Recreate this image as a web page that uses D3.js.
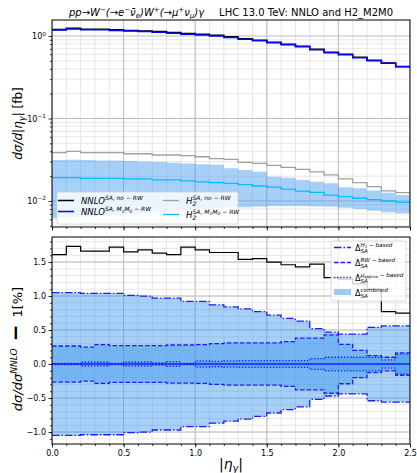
<!DOCTYPE html>
<html>
<head>
<meta charset="utf-8">
<script src="https://cdn.jsdelivr.net/npm/d3@7"></script>
<style>
  body { margin: 0; background: #fff; }
  text { font-family: "DejaVu Sans", sans-serif; fill: #000; }
</style>
</head>
<body>
<svg id="chart" width="417" height="473"></svg>
<script>
// |eta_gamma| bins (width 0.1)
const binEdges = [0.0,0.1,0.2,0.3,0.4,0.5,0.6,0.7,0.8,0.9,1.0,1.1,1.2,1.3,1.4,1.5,1.6,1.7,1.8,1.9,2.0,2.1,2.2,2.3,2.4,2.5];

// dsigma/d|eta_gamma| [fb]
const nnloNoRW = [1.20,1.24,1.21,1.21,1.19,1.17,1.15,1.13,1.10,1.07,1.05,1.02,0.976,0.926,0.891,0.842,0.796,0.753,0.693,0.636,0.601,0.552,0.508,0.470,0.427];
const nnloM1M0 = [1.18,1.22,1.19,1.19,1.17,1.15,1.13,1.11,1.08,1.05,1.03,1.00,0.960,0.912,0.877,0.830,0.785,0.742,0.683,0.628,0.594,0.546,0.502,0.466,0.424];
const h2NoRW   = [0.0385,0.0400,0.0385,0.0385,0.0385,0.0374,0.0374,0.0361,0.0361,0.0354,0.0344,0.0326,0.0320,0.0294,0.0286,0.0271,0.0256,0.0242,0.0225,0.0207,0.0185,0.0167,0.0149,0.0133,0.0126];
const h2M1M0   = [0.0192,0.0192,0.0188,0.0188,0.0188,0.0185,0.0185,0.0180,0.0180,0.0175,0.0171,0.0167,0.0164,0.0158,0.0152,0.0147,0.0139,0.0132,0.0127,0.0118,0.0113,0.0108,0.0104,0.0100,0.0096];
const h2BandHigh = [0.0314,0.0316,0.0314,0.0310,0.0310,0.0306,0.0302,0.0296,0.0290,0.0285,0.0279,0.0275,0.0249,0.0238,0.0226,0.0197,0.0192,0.0180,0.0171,0.0164,0.0147,0.0143,0.0134,0.0126,0.0118];
const h2BandLow  = [0.0062,0.0063,0.0065,0.0066,0.0068,0.0070,0.0072,0.0074,0.0076,0.0078,0.0080,0.0082,0.0084,0.0084,0.0085,0.0087,0.0087,0.0087,0.0086,0.0085,0.0083,0.0080,0.0076,0.0073,0.0071];

// ratio panel: dsigma/dsigma^NNLO - 1 [%]
const ratioNoRW = [1.61,1.73,1.66,1.66,1.72,1.65,1.68,1.63,1.61,1.72,1.68,1.64,1.64,1.54,1.55,1.50,1.46,1.43,1.47,1.27,1.25,1.18,1.10,0.77,0.75];
const deltaH1   = [1.05,1.05,1.04,1.04,1.04,1.01,1.00,0.97,0.97,0.92,0.92,0.87,0.84,0.81,0.77,0.72,0.67,0.63,0.52,0.47,0.44,0.44,0.54,0.56,0.56];
const deltaRW   = [0.265,0.265,0.25,0.285,0.27,0.27,0.27,0.27,0.28,0.28,0.285,0.30,0.31,0.31,0.31,0.31,0.33,0.38,0.38,0.43,0.29,0.20,0.125,0.10,0.165];
const deltaMu   = [0.01,0.01,0.03,0.03,0.01,0.03,0.03,0.015,0.035,0.01,0.045,0.04,0.045,0.05,0.05,0.05,0.05,0.05,0.08,0.10,0.10,0.10,0.10,0.06,0.15];
const deltaComb = [1.05,1.05,1.04,1.04,1.04,1.01,1.00,0.97,0.97,0.92,0.92,0.87,0.84,0.81,0.77,0.72,0.67,0.63,0.52,0.47,0.44,0.44,0.54,0.56,0.56];

// axis ticks
const xTicks = [0.0,0.5,1.0,1.5,2.0,2.5];
const xTickLabels = ["0.0","0.5","1.0","1.5","2.0","2.5"];
const yTopTicks = [1e-2,1e-1,1];
const yTopTickExps = ["−2","−1","0"];
const yBotTicks = [-1.0,-0.5,0.0,0.5,1.0,1.5];
const yBotTickLabels = ["−1.0","−0.5","0.0","0.5","1.0","1.5"];

const svg = d3.select("#chart");
const L = 52, R = 410;
const topP = {y0: 20, y1: 227};
const botP = {y0: 237, y1: 444};

const x = d3.scaleLinear().domain([0, 2.5]).range([L, R]);
const yTop = d3.scaleLog().domain([0.00484, 1.563]).range([topP.y1, topP.y0]);
const yBot = d3.scaleLinear().domain([-1.176, 1.868]).range([botP.y1, botP.y0]);

const BLUE = "#0000ff";
const LINE_BLUE = "#1c1cff";
const FILL = "rgb(60,150,240)";
const FILL_OP = 0.45;

// clip paths
const defs = svg.append("defs");
defs.append("clipPath").attr("id", "clipTop").append("rect")
  .attr("x", L).attr("y", topP.y0).attr("width", R - L).attr("height", topP.y1 - topP.y0);
defs.append("clipPath").attr("id", "clipBot").append("rect")
  .attr("x", L).attr("y", botP.y0).attr("width", R - L).attr("height", botP.y1 - botP.y0);

// step helpers: value i holds on [edge i, edge i+1)
const stepPts = vals => binEdges.map((e, i) => [e, vals[Math.min(i, vals.length - 1)]]);
function stepLine(ys, vals) {
  return d3.line().curve(d3.curveStepAfter).x(d => x(d[0])).y(d => ys(d[1]))(stepPts(vals));
}
function stepArea(ys, lo, hi) {
  const pts = binEdges.map((e, i) => { const k = Math.min(i, lo.length - 1); return [e, lo[k], hi[k]]; });
  return d3.area().curve(d3.curveStepAfter).x(d => x(d[0])).y0(d => ys(d[1])).y1(d => ys(d[2]))(pts);
}

// minor tick lists
const xMinor = d3.range(0, 26).map(i => i / 10);
const yTopMinor = [];
[-3, -2, -1, 0].forEach(p => { for (let k = 2; k <= 9; k++) { const v = k * Math.pow(10, p); if (v > 0.00484 && v < 1.563) yTopMinor.push(v); } });
const yBotMinor = d3.range(-11, 19).map(i => i / 10);

function grid(g, ys, yMin, yMaj, y0, y1) {
  g.selectAll(".vmin").data(xMinor).join("line")
    .attr("x1", d => x(d)).attr("x2", d => x(d)).attr("y1", y0).attr("y2", y1)
    .attr("stroke", "#e0e0e0").attr("stroke-width", 0.8);
  g.selectAll(".hmin").data(yMin).join("line")
    .attr("x1", L).attr("x2", R).attr("y1", d => ys(d)).attr("y2", d => ys(d))
    .attr("stroke", "#e0e0e0").attr("stroke-width", 0.8);
  g.selectAll(".vmaj").data(xTicks).join("line")
    .attr("x1", d => x(d)).attr("x2", d => x(d)).attr("y1", y0).attr("y2", y1)
    .attr("stroke", "#bdbdbd").attr("stroke-width", 1);
  g.selectAll(".hmaj").data(yMaj).join("line")
    .attr("x1", L).attr("x2", R).attr("y1", d => ys(d)).attr("y2", d => ys(d))
    .attr("stroke", "#bdbdbd").attr("stroke-width", 1);
}

// ---------------- top panel ----------------
const gTop = svg.append("g").attr("clip-path", "url(#clipTop)");
grid(gTop.append("g"), yTop, yTopMinor, yTopTicks, topP.y0, topP.y1);

gTop.append("path").attr("d", stepArea(yTop, h2BandLow, h2BandHigh))
  .attr("fill", FILL).attr("fill-opacity", FILL_OP);
gTop.append("path").attr("d", stepLine(yTop, h2NoRW))
  .attr("fill", "none").attr("stroke", "#a0a0a0").attr("stroke-width", 1.3);
gTop.append("path").attr("d", stepLine(yTop, h2M1M0))
  .attr("fill", "none").attr("stroke", "#00bfff").attr("stroke-width", 1.3);
gTop.append("path").attr("d", stepLine(yTop, nnloNoRW))
  .attr("fill", "none").attr("stroke", "#000").attr("stroke-width", 1.5);
gTop.append("path").attr("d", stepLine(yTop, nnloM1M0))
  .attr("fill", "none").attr("stroke", BLUE).attr("stroke-width", 1.5);

// ---------------- bottom panel ----------------
const gBot = svg.append("g").attr("clip-path", "url(#clipBot)");
grid(gBot.append("g"), yBot, yBotMinor, yBotTicks, botP.y0, botP.y1);

const neg = a => a.map(v => -v);
gBot.append("path").attr("d", stepArea(yBot, neg(deltaComb), deltaComb))
  .attr("fill", FILL).attr("fill-opacity", FILL_OP);
gBot.append("path").attr("d", stepArea(yBot, neg(deltaRW), deltaRW))
  .attr("fill", FILL).attr("fill-opacity", FILL_OP);
gBot.append("path").attr("d", stepArea(yBot, neg(deltaMu), deltaMu))
  .attr("fill", FILL).attr("fill-opacity", FILL_OP);

const DASH_H1 = "7.5,2,1.5,2";
const DASH_RW = "4.5,2";
const DASH_MU = "1.3,1.8";
const bands = [
  {vals: deltaH1, dash: DASH_H1},
  {vals: deltaRW, dash: DASH_RW},
  {vals: deltaMu, dash: DASH_MU}
];
bands.forEach(b => {
  [b.vals, neg(b.vals)].forEach(v => {
    gBot.append("path").attr("d", stepLine(yBot, v))
      .attr("fill", "none").attr("stroke", LINE_BLUE).attr("stroke-width", 1.3)
      .attr("stroke-dasharray", b.dash);
  });
});
const zeros = binEdges.slice(1).map(() => 0);
gBot.append("path").attr("d", stepLine(yBot, zeros))
  .attr("fill", "none").attr("stroke", LINE_BLUE).attr("stroke-width", 1.6);
gBot.append("path").attr("d", stepLine(yBot, ratioNoRW))
  .attr("fill", "none").attr("stroke", "#000").attr("stroke-width", 1.2);

// ---------------- axes ----------------
function frame(y0, y1) {
  svg.append("rect").attr("x", L).attr("y", y0).attr("width", R - L).attr("height", y1 - y0)
    .attr("fill", "none").attr("stroke", "#000").attr("stroke-width", 1);
}
function styleAxis(g) {
  g.select(".domain").remove();
  g.selectAll("line").attr("stroke", "#000").attr("stroke-width", 0.8);
  g.selectAll("text").attr("font-size", 8).attr("fill", "#000").style("font-family", "DejaVu Sans");
}

// x axes (top panel: ticks only)
[ [topP.y1, false], [botP.y1, true] ].forEach(([yy, labels]) => {
  const gm = svg.append("g").attr("transform", `translate(0,${yy})`)
    .call(d3.axisBottom(x).tickValues(xMinor).tickSize(2).tickFormat(""));
  styleAxis(gm);
  const gM = svg.append("g").attr("transform", `translate(0,${yy})`)
    .call(d3.axisBottom(x).tickValues(xTicks).tickSize(3.5).tickPadding(2.5)
      .tickFormat((d, i) => labels ? xTickLabels[i] : ""));
  styleAxis(gM);
});

// y axis top (log)
styleAxis(svg.append("g").attr("transform", `translate(${L},0)`)
  .call(d3.axisLeft(yTop).tickValues(yTopMinor).tickSize(2).tickFormat("")));
styleAxis(svg.append("g").attr("transform", `translate(${L},0)`)
  .call(d3.axisLeft(yTop).tickValues(yTopTicks).tickSize(3.5).tickFormat("")));
yTopTicks.forEach((v, i) => {
  const t = svg.append("text").attr("x", L - 6).attr("y", yTop(v) + 3)
    .attr("text-anchor", "end").attr("font-size", 8);
  t.append("tspan").text("10");
  t.append("tspan").attr("dy", -3.5).attr("font-size", 5.8).text(yTopTickExps[i]);
});

// y axis bottom
styleAxis(svg.append("g").attr("transform", `translate(${L},0)`)
  .call(d3.axisLeft(yBot).tickValues(yBotMinor).tickSize(2).tickFormat("")));
styleAxis(svg.append("g").attr("transform", `translate(${L},0)`)
  .call(d3.axisLeft(yBot).tickValues(yBotTicks).tickSize(3.5).tickPadding(2.5)
    .tickFormat((d, i) => yBotTickLabels[i])));

frame(topP.y0, topP.y1);
frame(botP.y0, botP.y1);

// ---------------- rich text helper ----------------
// segments: {t, lvl: "base" | "sup" | "sub" | "supsub", it: bool, bold: bool, size}
function rich(sel, segs, base) {
  const offs = {base: 0, sup: -0.42 * base, sub: 0.22 * base, supsub: -0.42 * base + 0.2 * base};
  const sizes = {base: base, sup: 0.7 * base, sub: 0.7 * base, supsub: 0.5 * base};
  let cur = 0;
  segs.forEach(s => {
    const lvl = s.lvl || "base";
    const ts = sel.append("tspan").text(s.t)
      .attr("font-size", s.size || sizes[lvl])
      .attr("font-style", s.it === false ? "normal" : "italic");
    if (s.bold) ts.attr("font-weight", "bold");
    if (s.dx) ts.attr("dx", s.dx);
    const d = offs[lvl] - cur;
    if (d !== 0) ts.attr("dy", d.toFixed(2));
    cur = offs[lvl];
  });
  return sel;
}

// title
const title = svg.append("text").attr("x", 231).attr("y", 16).attr("text-anchor", "middle").attr("font-size", 10);
rich(title, [
  {t: "pp→W"}, {t: "−", lvl: "sup"}, {t: "(→e"}, {t: "−", lvl: "sup"}, {t: "ν̄"}, {t: "e", lvl: "sub"},
  {t: ")W"}, {t: "+", lvl: "sup"}, {t: "(→μ"}, {t: "+", lvl: "sup"}, {t: "ν"}, {t: "μ", lvl: "sub"}, {t: ")γ"},
  {t: "LHC 13.0 TeV: NNLO and H2_M2M0", it: false, dx: 15}
], 10);

// y labels
const ylT = svg.append("text").attr("transform", `translate(22,${(topP.y0 + topP.y1) / 2}) rotate(-90)`)
  .attr("text-anchor", "middle").attr("font-size", 12);
rich(ylT, [{t: "dσ/d|η"}, {t: "γ", lvl: "sub"}, {t: "|"}, {t: " [fb]", it: false}], 12);

const ylB = svg.append("text").attr("transform", `translate(22,349) rotate(-90)`)
  .attr("text-anchor", "middle").attr("font-size", 13);
rich(ylB, [{t: "dσ/dσ"}, {t: "NNLO", lvl: "sup"}, {t: " − ", it: false, bold: true, size: 20}, {t: "1[%]", it: false}], 13);

// x label
const xl = svg.append("text").attr("x", 231).attr("y", 469).attr("text-anchor", "middle").attr("font-size", 14);
rich(xl, [{t: "|η"}, {t: "γ", lvl: "sub"}, {t: "|"}], 14);

// ---------------- top legend ----------------
svg.append("rect").attr("x", 57).attr("y", 192).attr("width", 181).attr("height", 32).attr("rx", 2)
  .attr("fill", "#fff").attr("fill-opacity", 0.8).attr("stroke", "#d0d0d0").attr("stroke-width", 0.8);
const legTop = [
  {x: 58, y: 200.5, color: "#000", w: 1.5, segs: [{t: "NNLO"}, {t: "SA, no − RW", lvl: "sup"}]},
  {x: 58, y: 211.5, color: BLUE, w: 1.5, segs: [{t: "NNLO"}, {t: "SA, M", lvl: "sup"}, {t: "1", lvl: "supsub"}, {t: "M", lvl: "sup"}, {t: "0", lvl: "supsub"}, {t: " − RW", lvl: "sup"}]},
  {x: 163, y: 200.5, color: "#a0a0a0", w: 1.3, h2: true, sup: [{t: "SA, no − RW"}]},
  {x: 163, y: 214.5, color: "#00bfff", w: 1.3, h2: true, sup: [{t: "SA, M"}, {t: "1", lvl: "sub", size: 4.5}, {t: "M"}, {t: "0", lvl: "sub", size: 4.5}, {t: " − RW"}]}
];
legTop.forEach(e => {
  svg.append("line").attr("x1", e.x).attr("x2", e.x + 16).attr("y1", e.y).attr("y2", e.y)
    .attr("stroke", e.color).attr("stroke-width", e.w);
  const t = svg.append("text").attr("x", e.x + 23).attr("y", e.y + 3).attr("font-size", 8.5);
  if (e.h2) {
    t.append("tspan").attr("font-style", "italic").text("H");
    const wH = t.node().getComputedTextLength();
    svg.append("text").attr("x", e.x + 23 + wH).attr("y", e.y + 5).attr("font-size", 6).attr("font-style", "italic").text("2");
    const s = svg.append("text").attr("x", e.x + 23 + wH).attr("y", e.y - 0.5).attr("font-size", 6);
    rich(s, e.sup, 6);
  } else {
    rich(t, e.segs, 8.5);
  }
});

// ---------------- bottom legend ----------------
svg.append("rect").attr("x", 331).attr("y", 241).attr("width", 75).attr("height", 60).attr("rx", 2)
  .attr("fill", "#fff").attr("fill-opacity", 0.8).attr("stroke", "#d0d0d0").attr("stroke-width", 0.8);
const legBot = [
  {y: 247.5, dash: DASH_H1, sup: [{t: "H"}, {t: "1", lvl: "sub", size: 4}, {t: " − "}, {t: "based"}]},
  {y: 262.5, dash: DASH_RW, sup: [{t: "RW"}, {t: " − "}, {t: "based"}]},
  {y: 277.5, dash: DASH_MU, sup: [{t: "μ"}, {t: "approx", lvl: "sub", size: 4}, {t: " − "}, {t: "based"}]},
  {y: 292, patch: true, sup: [{t: "combined"}]}
];
legBot.forEach(e => {
  if (e.patch) {
    svg.append("rect").attr("x", 334).attr("y", e.y - 3).attr("width", 17).attr("height", 6)
      .attr("fill", FILL).attr("fill-opacity", FILL_OP + 0.05);
  } else {
    svg.append("line").attr("x1", 334).attr("x2", 351).attr("y1", e.y).attr("y2", e.y)
      .attr("stroke", LINE_BLUE).attr("stroke-width", 1.3).attr("stroke-dasharray", e.dash);
  }
  const t = svg.append("text").attr("x", 355).attr("y", e.y + 3.5).attr("font-size", 8);
  t.append("tspan").text("Δ");
  const wD = t.node().getComputedTextLength();
  svg.append("text").attr("x", 355 + wD).attr("y", e.y + 5.5).attr("font-size", 5.6).attr("font-style", "italic").text("SA");
  const s = svg.append("text").attr("x", 355 + wD).attr("y", e.y - 0.5).attr("font-size", 5.6);
  rich(s, e.sup, 5.6);
});
</script>
</body>
</html>
